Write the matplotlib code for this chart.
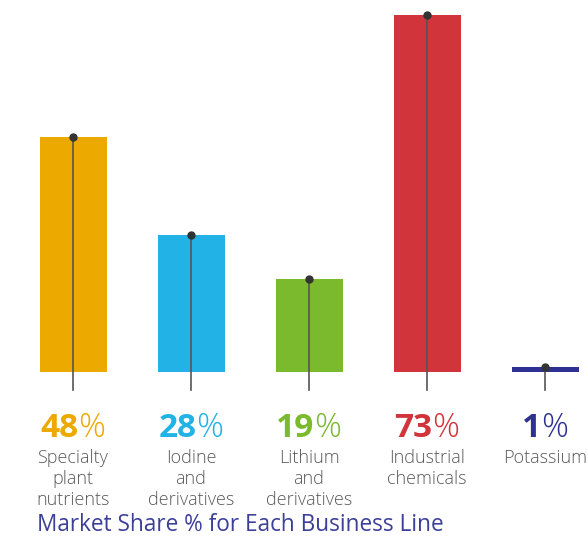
import matplotlib
matplotlib.use("Agg")
import matplotlib.pyplot as plt
from matplotlib.offsetbox import TextArea, HPacker, AnnotationBbox

plt.rcParams['font.family'] = ['Open Sans', 'DejaVu Sans']

# market share per business line
lines = ['Specialty\nplant\nnutrients', 'Iodine\nand\nderivatives', 'Lithium\nand\nderivatives',
         'Industrial\nchemicals', 'Potassium']
shares = [48, 28, 19, 73, 1]
colors = ['#ECA900', '#22B2E6', '#7BBA2D', '#D1343B', '#2E3192']

fig = plt.figure(figsize=(5.88, 5.36), dpi=100)
ax = fig.add_axes([0, 0, 1, 1])
ax.set_xlim(-73 / 118, (588 - 73) / 118)
px = 357 / 73  # pixels per percent
ax.set_ylim(-(536 - 372) / px, 372 / px)
ax.axis('off')

x = range(len(shares))
ax.bar(x, shares, width=67 / 118, color=colors, zorder=1)

for i, v in enumerate(shares):
    ax.plot([i, i], [v, -18 / px], color='#555555', lw=1.2, zorder=2)
    ax.plot(i, v, 'o', color='#333333', ms=5, zorder=3)

    num = TextArea(str(v), textprops=dict(color=colors[i], fontsize=24, fontweight='bold'))
    pct = TextArea('%', textprops=dict(color=colors[i], fontsize=24, fontweight='light'))
    box = HPacker(children=[num, pct], align='baseline', pad=0, sep=0)
    ab = AnnotationBbox(box, (i, -56 / px), frameon=False, box_alignment=(0.5, 0.5),
                        annotation_clip=False)
    ax.add_artist(ab)

    ax.text(i, -77 / px, lines[i], ha='center', va='top', fontsize=13, color='#5a5a5a',
            fontweight='light', linespacing=1.2)

fig.text(37 / 588, 1 - 525 / 536, 'Market Share % for Each Business Line', ha='left', va='center',
         fontsize=16.3, color='#3B3F98')

fig.savefig('out.png', dpi=100)
